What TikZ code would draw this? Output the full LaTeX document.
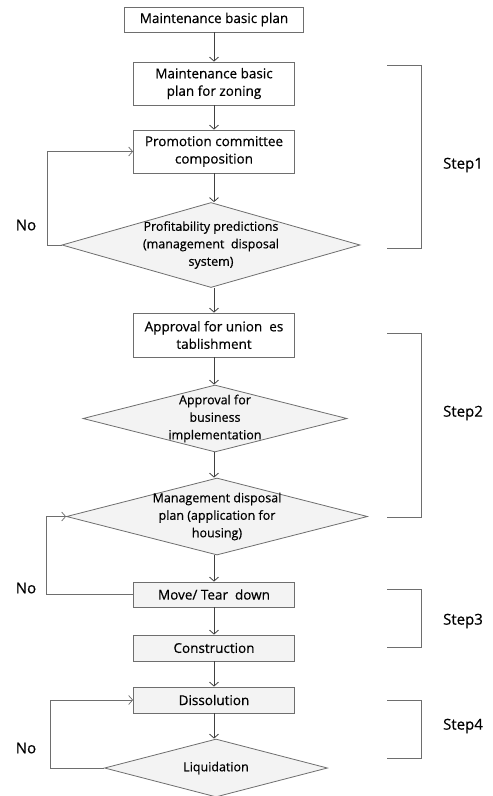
\documentclass[tikz,border=0pt]{standalone}
\usepackage{fontspec}
\setmainfont{Open Sans}[FakeBold=0.5]
\usetikzlibrary{shapes.geometric,arrows.meta}
\definecolor{lineColor}{RGB}{110,110,110}
\definecolor{shadeColor}{RGB}{243,243,243}
\tikzset{
  every node/.style={font=\fontsize{13.5}{17.5}\selectfont},
  stepbox/.style={rectangle,draw=lineColor,line width=0.8pt,fill=white,
    minimum width=161pt,inner sep=2pt,align=center},
  graybox/.style={stepbox,fill=shadeColor},
  decision/.style={diamond,draw=lineColor,line width=0.8pt,fill=shadeColor,
    inner sep=0pt},
  dtext/.style={align=center,inner sep=0pt,font=\fontsize{12.5}{17.5}\selectfont},
  arr/.style={draw=black!75,line width=0.8pt,-{Straight Barb[length=4pt,width=9pt]}},
  loop/.style={draw=lineColor,line width=0.7pt,-{Straight Barb[length=4pt,width=9pt]}},
  brk/.style={draw=lineColor,line width=0.8pt},
  side/.style={font=\fontsize{15}{18}\selectfont}
}
\begin{document}
\begin{tikzpicture}[x=1pt,y=-1pt]
\path[use as bounding box,fill=white] (0,0) rectangle (493,796);

% main column
\node[stepbox,minimum width=179pt,minimum height=25pt] (plan) at (214,19.5) {Maintenance basic plan};
\node[stepbox,minimum height=43pt] (zoning) at (214,83.5) {Maintenance basic\\plan for zoning};
\node[stepbox,minimum height=43pt] (committee) at (214,151.5) {Promotion committee\\composition};
\node[decision,minimum width=298pt,minimum height=85pt,
  label={[dtext]center:Profitability predictions\\(management\ \ disposal\\system)}] (profit) at (211,245) {};
\node[stepbox,minimum height=44pt] (union) at (214,335) {Approval for union\ \ es\\tablishment};
\node[decision,minimum width=264pt,minimum height=67pt,
  label={[dtext]center:Approval for\\business\\implementation}] (business) at (215,418.5) {};
\node[decision,minimum width=301pt,minimum height=77pt,
  label={[dtext]center:Management disposal\\plan (application for\\housing)}] (housing) at (217,516.5) {};
\node[graybox,minimum height=25pt] (move) at (214,594.5) {Move/ Tear\ \ down};
\node[graybox,minimum height=26pt] (construction) at (214,648) {Construction};
\node[graybox,minimum height=26pt] (dissolution) at (214,700) {Dissolution};
\node[decision,minimum width=223pt,minimum height=58pt,
  label={[dtext]center:Liquidation}] (liquid) at (216,768) {};

\draw[arr] (plan) -- (zoning);
\draw[arr] (zoning) -- (committee);
\draw[arr] (committee) -- (profit.north -| committee);
\draw[arr] (profit.south -| union) -- (union);
\draw[arr] (union) -- (business.north -| union);
\draw[arr] (business.south -| union) -- (housing.north -| union);
\draw[arr] (housing.south -| move) -- (move);
\draw[arr] (move) -- (construction);
\draw[arr] (construction) -- (dissolution);
\draw[arr] (dissolution) -- (liquid.north -| dissolution);

% No loops
\coordinate (no1) at (47,245);
\coordinate (no2) at (46,594.5);
\coordinate (no3) at (50,768);
\draw[loop] (profit.west) -- (no1) |- (committee.west);
\draw[loop] (move.west) -- (no2) |- (housing.west);
\draw[loop] (liquid.west) -- (no3) |- (dissolution.west);
\node[side] (nolabel1) at (26,225) {No};
\node[side] (nolabel2) at (26,588) {No};
\node[side] (nolabel3) at (26,748) {No};

% step brackets
\draw[brk] (387,65) -- (421,65) -- (421,248) -- (387,248);
\draw[brk] (387,333) -- (421,333) -- (421,517) -- (387,517);
\draw[brk] (387,589) -- (421,589) -- (421,647) -- (387,647);
\draw[brk] (387,700) -- (421,700) -- (421,758) -- (387,758);
\node[side] (step1) at (463,165) {Step1};
\node[side] (step2) at (463,413) {Step2};
\node[side] (step3) at (463,621) {Step3};
\node[side] (step4) at (463,726) {Step4};
\end{tikzpicture}
\end{document}
